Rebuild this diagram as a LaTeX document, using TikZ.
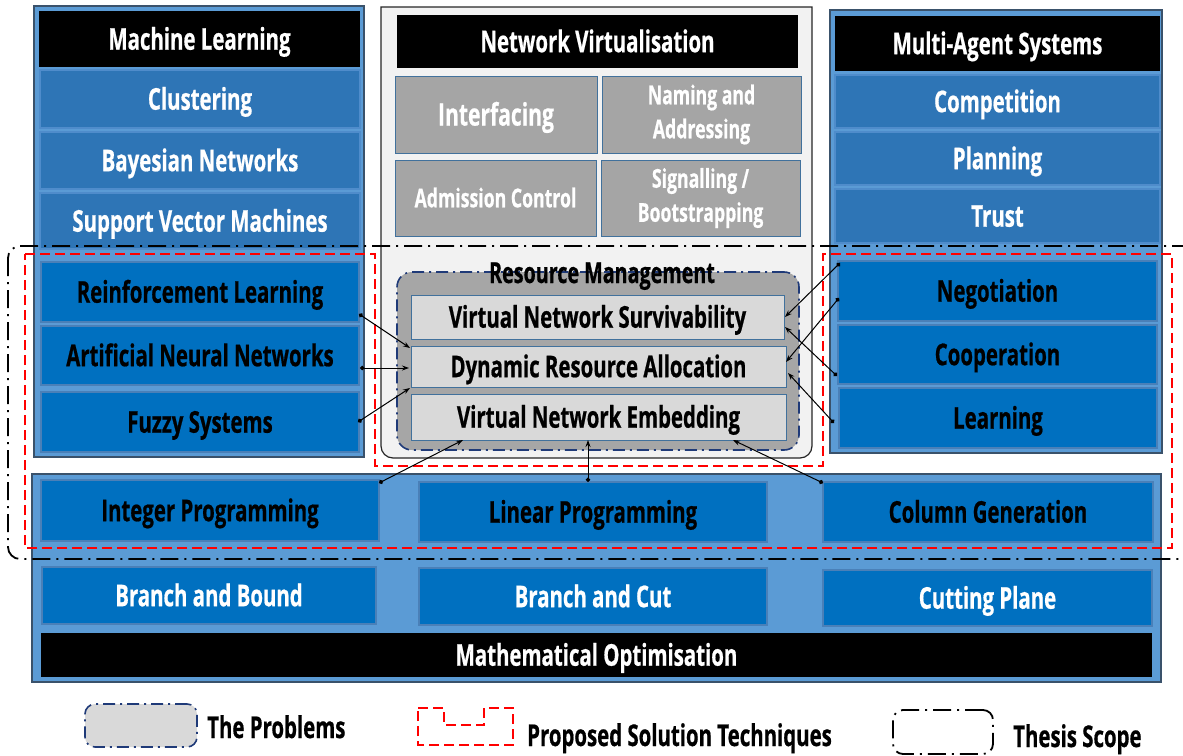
\documentclass[tikz,border=0pt]{standalone}
\usepackage{fontspec}
\setmainfont{Open Sans}[FakeStretch=0.68, BoldFeatures={FakeBold=0.6}]
\usetikzlibrary{arrows.meta,calc}
\definecolor{panelblue}{HTML}{5B9BD5}
\definecolor{paneledge}{HTML}{3A526B}
\definecolor{upblue}{HTML}{2E75B6}
\definecolor{upedge}{HTML}{4F8CCB}
\definecolor{lowblue}{HTML}{0070C0}
\definecolor{lowedge}{HTML}{4A80B8}
\definecolor{greybox}{HTML}{A5A5A5}
\definecolor{boxedge}{HTML}{41719C}
\definecolor{lightbox}{HTML}{D9D9D9}
\definecolor{groupfill}{HTML}{A6A6A6}
\definecolor{navy}{HTML}{1F3A78}
\definecolor{midfill}{HTML}{F2F2F2}
\newcommand\boxat[7]{%
  \pgfmathsetmacro\bxw{#5-#3}\pgfmathsetmacro\bxh{#6-#4}%
  \node[#2, minimum width=\bxw pt, minimum height=\bxh pt] (#1) at ({(#3+#5)/2},{(#4+#6)/2}) {#7};}
\tikzset{
  base/.style={inner sep=0pt, outer sep=0pt, align=center, font=\fontsize{30}{34}\selectfont\bfseries, text height=21.4pt, text depth=0pt},
  panel/.style={base, fill=panelblue, draw=paneledge, line width=1.5pt},
  header/.style={base, fill=black, text=white},
  upbox/.style={base, fill=upblue, draw=upedge, line width=1.2pt, text=white},
  lowbox/.style={base, fill=lowblue, draw=lowedge, line width=1.2pt, text=black},
  lowboxw/.style={base, fill=lowblue, draw=lowedge, line width=1.2pt, text=white},
  greyb/.style={base, fill=greybox, draw=boxedge, line width=1pt, text=white},
  lightb/.style={base, fill=lightbox, draw=boxedge, line width=1pt, text=black},
  conn/.style={line width=1pt, {Circle[length=4.5pt]}-{Stealth[length=7pt,width=5pt]}},
  redline/.style={draw=red, line width=1.8pt, dash pattern=on 10pt off 5pt},
  scopeline/.style={draw=black, line width=1.8pt, dash pattern=on 18pt off 6pt on 2pt off 6pt},
  navyline/.style={draw=navy, line width=1.6pt, dash pattern=on 12pt off 5pt on 2pt off 5pt},
  legtext/.style={inner sep=0pt, font=\fontsize{30}{34}\selectfont\bfseries, anchor=base west}
}
\begin{document}
\begin{tikzpicture}[x=1pt,y=-1pt]
\useasboundingbox (0,0) rectangle (1183,755);
% ---------- left panel
\boxat{mlp}{panel}{34}{6}{364}{457}{}
\boxat{mlh}{header}{39}{11}{360}{67}{Machine Learning}
\boxat{clu}{upbox}{40}{70}{360}{128}{Clustering}
\boxat{bay}{upbox}{40}{132}{360}{189}{Bayesian Networks}
\boxat{svm}{upbox}{40}{193}{360}{249}{Support Vector Machines}
\boxat{rl}{lowbox}{41}{262}{359}{322}{Reinforcement Learning}
\boxat{ann}{lowbox}{41}{326}{359}{385}{Artificial Neural Networks}
\boxat{fz}{lowbox}{41}{392}{359}{452}{Fuzzy Systems}
% ---------- right panel
\boxat{masp}{panel}{830}{10}{1162}{453}{}
\boxat{mash}{header}{835}{16}{1160}{71}{Multi-Agent Systems}
\boxat{comp}{upbox}{835}{75}{1160}{128}{Competition}
\boxat{plan}{upbox}{835}{132}{1160}{185}{Planning}
\boxat{trust}{upbox}{835}{189}{1160}{243}{Trust}
\boxat{neg}{lowbox}{838}{261}{1157}{321}{Negotiation}
\boxat{coop}{lowbox}{838}{325}{1157}{384}{Cooperation}
\boxat{learn}{lowbox}{839}{388}{1157}{448}{Learning}
% ---------- middle panel
\filldraw[fill=midfill, draw=black!85, line width=1.2pt] (381,7) -- (812,7) [rounded corners=12pt] -- (812,458) -- (381,458) [sharp corners] -- cycle;
\boxat{nvh}{header}{397}{15}{798}{68}{Network Virtualisation}
\boxat{intf}{greyb, font=\fontsize{31}{36}\selectfont\bfseries, text height=22.1pt}{395}{76}{597}{153}{Interfacing}
\boxat{name}{greyb, font=\fontsize{26}{34}\selectfont\bfseries, text height=, text depth=}{602}{76}{801}{153}{Naming and\\Addressing}
\boxat{adm}{greyb, font=\fontsize{26}{30}\selectfont\bfseries, text height=18.6pt}{395}{160}{596}{236}{Admission Control}
\boxat{sig}{greyb, font=\fontsize{26}{34}\selectfont\bfseries, text height=, text depth=}{601}{160}{800}{236}{Signalling /\\Bootstrapping}
\boxat{rm}{base, fill=groupfill, navyline, rounded corners=15pt}{397}{272}{799}{450}{}
\node[inner sep=0pt, font=\fontsize{29}{32}\selectfont\bfseries, anchor=base] (rmt) at (602,283) {Resource Management};
\boxat{vns}{lightb}{411}{295}{784}{339}{Virtual Network Survivability}
\boxat{dra}{lightb}{411}{346}{786}{387}{Dynamic Resource Allocation}
\boxat{vne}{lightb}{411}{394}{786}{440}{Virtual Network Embedding}
% ---------- bottom panel
\boxat{mop}{panel}{32}{474}{1161}{682}{}
\boxat{ip}{lowbox}{41}{480}{379}{541}{Integer Programming}
\boxat{lp}{lowbox}{419}{482}{767}{542}{Linear Programming}
\boxat{cg}{lowbox}{823}{482}{1153}{542}{Column Generation}
\boxat{bb}{lowboxw}{42}{567}{376}{624}{Branch and Bound}
\boxat{bc}{lowboxw}{419}{568}{767}{625}{Branch and Cut}
\boxat{cp}{lowboxw}{823}{570}{1152}{626}{Cutting Plane}
\boxat{mo}{header}{41}{633}{1152}{677}{Mathematical Optimisation}
% ---------- scope outlines
\draw[redline] (25,254) -- (375,254) -- (375,466) -- (823,466) -- (823,254) -- (1172,254) -- (1172,548) -- (25,548) -- cycle;
\draw[scopeline, rounded corners=12pt] (8,246) rectangle (1196,559);
% ---------- connectors
\draw[conn] ($(rl.east)+(0,22)$) -- ($(dra.north west)+(-1,2)$);
\draw[conn] ($(ann.east)+(1,12.5)$) -- ($(dra.west)+(-2,1.5)$);
\draw[conn] ($(fz.east)+(-1,0)$) -- ($(dra.south west)+(-1,1)$);
\draw[conn] ($(neg.west)+(2,-28)$) -- ($(vns.east)+(1,0)$);
\draw[conn] ($(neg.west)+(1,7)$) -- ($(dra.east)+(0,-4.5)$);
\draw[conn] ($(coop.west)+(-1,21.5)$) -- ($(vns.south east)+(1,-12)$);
\draw[conn] ($(learn.west)+(-5,5)$) -- ($(dra.east)+(2,6.5)$);
\draw[conn] ($(ip.north east)+(0,3)$) -- ($(vne.south west)+(52,0)$);
\draw[conn] ($(lp.north)+(-5,0)$) -- ($(vne.south)+(-10.5,0)$);
\draw[conn] ($(cg.north west)+(0,1)$) -- ($(vne.south east)+(-53,0)$);
% ---------- legend
\boxat{legp}{base, fill=lightbox, navyline, rounded corners=10pt}{85}{704}{197}{747}{}
\node[legtext] (legpt) at (207,738) {The Problems};
\draw[redline] (418,708) -- (444,708) -- (444,725) -- (484,725) -- (484,708) -- (513,708) -- (513,745) -- (418,745) -- cycle;
\node[legtext] (legst) at (527,746) {Proposed Solution Techniques};
\boxat{legs}{base, scopeline, rounded corners=10pt}{893}{710}{993}{754}{}
\node[legtext] (legsc) at (1013,747) {Thesis Scope};
\end{tikzpicture}
\end{document}
